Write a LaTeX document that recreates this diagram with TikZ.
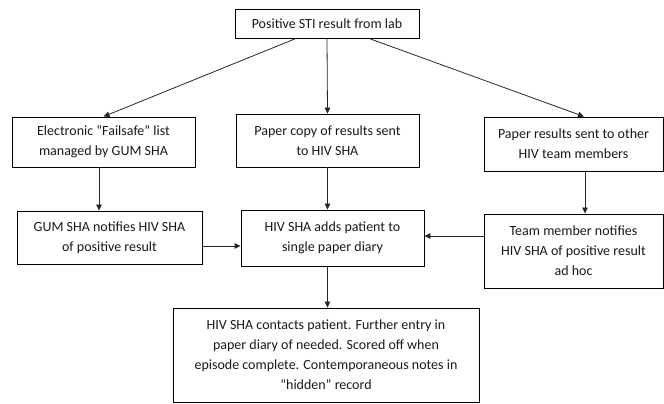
\documentclass[tikz,border=0pt]{standalone}
\usepackage{fontspec}
\setmainfont{Carlito}
\usetikzlibrary{arrows.meta,calc}
\begin{document}
\begin{tikzpicture}[x=1pt,y=1pt,
  box/.style={draw=black,line width=0.9pt,align=center,inner sep=0pt,
    font=\fontsize{14}{20}\selectfont,text=black!90},
  conn/.style={line width=0.8pt,draw=black!85,-{Triangle[length=6pt,width=5.5pt]}}]
\useasboundingbox (0,0) rectangle (664,-404);
\node[box,minimum width=184pt,minimum height=29pt] (top) at (327,-23.5) {Positive STI result from lab};
\node[box,minimum width=183pt,minimum height=50pt] (elec) at (103.5,-142) {Electronic “Failsafe” list\\managed by GUM SHA};
\node[box,minimum width=183pt,minimum height=53pt] (paper) at (327.5,-140.5) {Paper copy of results sent\\to HIV SHA};
\node[box,minimum width=179pt,minimum height=54pt] (other) at (573.5,-144) {Paper results sent to other\\HIV team members};
\node[box,minimum width=185pt,minimum height=53pt] (gum) at (109.5,-237.5) {GUM SHA notifies HIV SHA\\of positive result};
\node[box,minimum width=183pt,minimum height=56pt] (adds) at (332.5,-238) {HIV SHA adds patient to\\single paper diary};
\node[box,minimum width=179pt,minimum height=74pt] (team) at (573.5,-251) {Team member notifies\\HIV SHA of positive result\\ad hoc};
\node[box,minimum width=306pt,minimum height=94pt] (bottom) at (326,-355) {HIV SHA contacts patient. Further entry in\\paper diary of needed. Scored off when\\episode complete. Contemporaneous notes in\\“hidden” record};
\coordinate (tl) at ($(top.south)+(-31,0)$);
\coordinate (tr) at ($(top.south)+(42,0)$);
\draw[conn] (tl) -- (elec.north);
\draw[conn] (top.south) -- (paper.north);
\draw[conn] (tr) -- ($(other.north)+(10.5,0)$);
\coordinate (el) at ($(elec.south)+(-4.5,0)$);
\draw[conn] (el) -- (el |- gum.north);
\draw[conn] (paper.south) -- (paper.south |- adds.north);
\coordinate (ot) at ($(other.south)+(11.5,0)$);
\draw[conn] (ot) -- (ot |- team.north);
\coordinate (ge) at ($(gum.east)+(0,-8.5)$);
\draw[conn] (ge) -- (ge -| adds.west);
\coordinate (tw) at ($(team.west)+(0,15)$);
\draw[conn] (tw) -- (tw -| adds.east);
\coordinate (ad) at (paper.south |- adds.south);
\draw[conn] (ad) -- (ad |- bottom.north);
\end{tikzpicture}
\end{document}
